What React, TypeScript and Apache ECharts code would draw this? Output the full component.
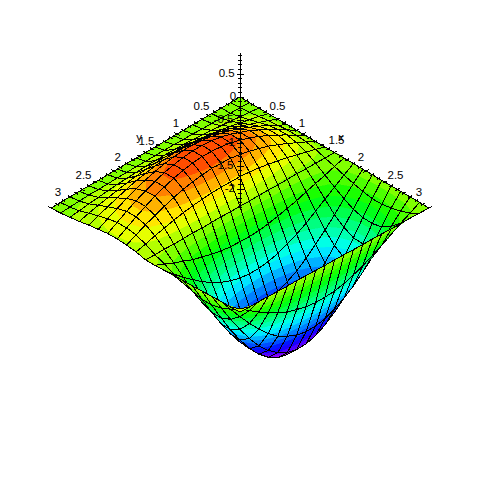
import React, { useEffect, useRef } from "react";
import * as echarts from "echarts";

// Surface heights: one row per x value, one column per y value.
const xGrid = [0, 0.15, 0.3, 0.45, 0.6, 0.75, 0.9, 1.05, 1.2, 1.35, 1.5, 1.65, 1.8, 1.95, 2.1, 2.25, 2.4, 2.55, 2.7, 2.85, 3];
const yGrid = [0, 0.15, 0.3, 0.45, 0.6, 0.75, 0.9, 1.05, 1.2, 1.35, 1.5, 1.65, 1.8, 1.95, 2.1, 2.25, 2.4, 2.55, 2.7, 2.85, 3];
const zGrid = [
  [0, 0, 0, 0, 0, 0, 0, 0, 0, 0, 0, 0, 0, 0, 0, 0, 0, 0, 0, 0, 0],
  [0, 0.01, 0.01, 0.02, 0.03, 0.03, 0.04, 0.04, 0.05, 0.05, 0.05, 0.05, 0.05, 0.05, 0.05, 0.04, 0.04, 0.04, 0.03, 0.02, 0.01],
  [0, 0.03, 0.05, 0.08, 0.1, 0.12, 0.14, 0.16, 0.17, 0.18, 0.18, 0.18, 0.18, 0.17, 0.16, 0.15, 0.13, 0.11, 0.09, 0.06, 0.04],
  [0, 0.06, 0.11, 0.16, 0.21, 0.25, 0.29, 0.32, 0.35, 0.37, 0.37, 0.38, 0.37, 0.35, 0.33, 0.3, 0.26, 0.22, 0.18, 0.13, 0.07],
  [0, 0.09, 0.17, 0.25, 0.33, 0.4, 0.46, 0.51, 0.54, 0.57, 0.58, 0.59, 0.57, 0.55, 0.51, 0.47, 0.41, 0.34, 0.27, 0.19, 0.11],
  [0, 0.11, 0.23, 0.33, 0.43, 0.52, 0.6, 0.66, 0.71, 0.75, 0.77, 0.77, 0.75, 0.72, 0.67, 0.61, 0.54, 0.45, 0.35, 0.25, 0.14],
  [0, 0.13, 0.26, 0.38, 0.49, 0.6, 0.68, 0.76, 0.82, 0.86, 0.88, 0.88, 0.86, 0.82, 0.77, 0.7, 0.61, 0.52, 0.41, 0.29, 0.17],
  [0, 0.13, 0.26, 0.38, 0.49, 0.59, 0.68, 0.75, 0.81, 0.85, 0.87, 0.88, 0.86, 0.82, 0.77, 0.7, 0.62, 0.52, 0.41, 0.29, 0.17],
  [0, 0.11, 0.21, 0.32, 0.41, 0.5, 0.57, 0.63, 0.68, 0.72, 0.73, 0.74, 0.72, 0.69, 0.65, 0.59, 0.52, 0.44, 0.36, 0.26, 0.16],
  [0, 0.07, 0.13, 0.19, 0.25, 0.3, 0.35, 0.39, 0.42, 0.44, 0.45, 0.45, 0.45, 0.43, 0.41, 0.38, 0.34, 0.29, 0.24, 0.18, 0.13],
  [0, 0, 0.01, 0.01, 0.02, 0.02, 0.02, 0.03, 0.03, 0.03, 0.04, 0.04, 0.05, 0.05, 0.05, 0.06, 0.06, 0.06, 0.07, 0.07, 0.08],
  [0, -0.06, -0.13, -0.19, -0.25, -0.32, -0.37, -0.42, -0.46, -0.49, -0.5, -0.49, -0.48, -0.45, -0.4, -0.34, -0.28, -0.19, -0.11, -0.01, 0.08],
  [0, -0.13, -0.27, -0.41, -0.55, -0.69, -0.81, -0.9, -0.99, -1.04, -1.07, -1.07, -1.04, -0.98, -0.89, -0.77, -0.64, -0.47, -0.3, -0.11, 0.09],
  [0, -0.19, -0.4, -0.63, -0.84, -1.03, -1.21, -1.37, -1.48, -1.57, -1.61, -1.61, -1.57, -1.48, -1.36, -1.18, -0.98, -0.73, -0.48, -0.19, 0.1],
  [0, -0.24, -0.51, -0.78, -1.06, -1.31, -1.54, -1.73, -1.89, -1.99, -2.05, -2.06, -2, -1.89, -1.73, -1.51, -1.25, -0.94, -0.61, -0.25, 0.11],
  [0, -0.28, -0.57, -0.89, -1.2, -1.47, -1.74, -1.95, -2.12, -2.25, -2.31, -2.31, -2.26, -2.13, -1.95, -1.71, -1.41, -1.07, -0.7, -0.3, 0.11],
  [0, -0.28, -0.58, -0.9, -1.21, -1.49, -1.76, -1.98, -2.15, -2.28, -2.34, -2.34, -2.29, -2.16, -1.97, -1.73, -1.42, -1.08, -0.7, -0.3, 0.12],
  [0, -0.24, -0.53, -0.81, -1.09, -1.35, -1.58, -1.78, -1.94, -2.05, -2.11, -2.11, -2.06, -1.94, -1.77, -1.55, -1.27, -0.95, -0.61, -0.24, 0.13],
  [0, -0.19, -0.4, -0.61, -0.83, -1.03, -1.21, -1.36, -1.47, -1.56, -1.6, -1.6, -1.56, -1.46, -1.34, -1.16, -0.94, -0.7, -0.43, -0.15, 0.14],
  [0, -0.11, -0.21, -0.33, -0.45, -0.55, -0.65, -0.73, -0.8, -0.84, -0.85, -0.85, -0.82, -0.76, -0.69, -0.59, -0.47, -0.33, -0.18, -0.02, 0.14],
  [0, 0.01, 0.02, 0.02, 0.03, 0.04, 0.05, 0.05, 0.06, 0.07, 0.08, 0.08, 0.09, 0.1, 0.11, 0.11, 0.12, 0.13, 0.14, 0.14, 0.15],
];
const axisMajor = [0.5, 1, 1.5, 2, 2.5, 3];
const zMajor = [0.5, 0, -0.5, -1, -1.5, -2];

const O = { x: 240, y: 97, ux: 63, uy: 37, uz: 46 };
const proj = (x: number, y: number, z: number) => [O.x + O.ux * (x - y), O.y + O.uy * (x + y) - O.uz * z];
const Z0 = 0.87, K = 85, H0 = 14, STEP = 12;
const hue = (z: number) => H0 + (Z0 - z) * K;

function clip(poly: number[][], zv: number, keepAbove: boolean) {
  const out: number[][] = [];
  for (let k = 0; k < poly.length; k++) {
    const a = poly[k], b = poly[(k + 1) % poly.length];
    const ia = keepAbove ? a[2] >= zv : a[2] <= zv;
    const ib = keepAbove ? b[2] >= zv : b[2] <= zv;
    if (ia) out.push(a);
    if (ia !== ib) { const t = (zv - a[2]) / (b[2] - a[2]); out.push([a[0] + t * (b[0] - a[0]), a[1] + t * (b[1] - a[1]), zv]); }
  }
  return out;
}

const NX = xGrid.length - 1, NY = yGrid.length - 1;
const cells: number[][] = [];
for (let s = 0; s <= NX + NY - 2; s++) for (let i = 0; i < NX; i++) { const j = s - i; if (j >= 0 && j < NY) cells.push([i, j]); }

const renderCell = (_p: any, api: any) => {
  const i = api.value(0), j = api.value(1);
  const corners = [[i, j], [i + 1, j], [i + 1, j + 1], [i, j + 1]].map(([a, b]) => {
    const z = zGrid[a][b];
    const p = proj(xGrid[a], yGrid[b], z);
    const c = api.coord([p[0], p[1]]);
    return [c[0], c[1], z];
  });
  const children: any[] = [];
  const hs = corners.map((c) => hue(c[2]));
  const lo = Math.floor(Math.min(...hs) / STEP), hi = Math.floor(Math.max(...hs) / STEP);
  for (let b = lo; b <= hi; b++) {
    const zTop = Z0 - (b * STEP - H0) / K;
    const zBot = Z0 - ((b + 1) * STEP - H0) / K;
    let poly = clip(corners, zTop, false);
    if (poly.length) poly = clip(poly, zBot, true);
    if (poly.length < 3) continue;
    const col = `hsl(${(b + 0.5) * STEP},100%,50%)`;
    children.push({ type: "polygon", shape: { points: poly.map((q) => [q[0], q[1]]) }, style: { fill: col, stroke: col, lineWidth: 0.6 } });
  }
  children.push({ type: "polygon", shape: { points: corners.map((q) => [q[0], q[1]]) }, style: { fill: "none", stroke: "#000", lineWidth: 1 } });
  return { type: "group", children };
};

const line = (api: any, a: number[], b: number[]) => {
  const p = api.coord(a), q = api.coord(b);
  return { type: "line", shape: { x1: p[0], y1: p[1], x2: q[0], y2: q[1] }, style: { stroke: "#000", lineWidth: 1 } };
};
const label = (api: any, t: string, at: number[]) => {
  const p = api.coord(at);
  return { type: "text", x: p[0], y: p[1], style: { text: t, fill: "#000", font: '11.5px "Liberation Sans"', align: "center", verticalAlign: "middle" } };
};
const leftOff = [[-7, -10], [-1, -11], [1, -12], [3.6, -14], [1, -15], [7, -16]];
const rightOff = [[6, -10], [-1, -11], [2, -13], [-5, -14], [-2, -15], [-10, -16]];
const renderAxes = (_p: any, api: any) => {
  const ch: any[] = [];
  const nx = [0.86, -0.505], ny = [0.86, 0.505];
  ch.push(line(api, proj(0, 0, 0), proj(3, 0, 0)), line(api, proj(0, 0, 0), proj(0, 3, 0)), line(api, proj(0, 0, 0.95), proj(0, 0, -2.45)));
  for (let k = 1; k <= 30; k++) {
    const v = k / 10, L = k % 5 === 0 ? 3.5 : 2;
    const a = proj(v, 0, 0), b = proj(0, v, 0);
    ch.push(line(api, [a[0] - nx[0] * L, a[1] - nx[1] * L], [a[0] + nx[0] * L, a[1] + nx[1] * L]));
    ch.push(line(api, [b[0] - ny[0] * L, b[1] - ny[1] * L], [b[0] + ny[0] * L, b[1] + ny[1] * L]));
  }
  for (let k = -24; k <= 9; k++) {
    const c = proj(0, 0, k / 10), L = k % 5 === 0 ? 3.5 : 2;
    ch.push(line(api, [c[0] - L, c[1]], [c[0] + L, c[1]]));
  }
  axisMajor.forEach((v, k) => {
    const a = proj(v, 0, 0), b = proj(0, v, 0);
    ch.push(label(api, String(v), [a[0] + rightOff[k][0], a[1] + rightOff[k][1]]));
    ch.push(label(api, String(v), [b[0] + leftOff[k][0], b[1] + leftOff[k][1]]));
  });
  zMajor.forEach((v) => {
    const c = proj(0, 0, v), t = String(v);
    ch.push(label(api, t, [c[0] - 4 - t.length * 3.1, c[1] - 1]));
  });
  ch.push(label(api, "x", [341, 137]), label(api, "y", [139, 137]));
  return { type: "group", children: ch };
};

export default function App() {
  const ref = useRef<HTMLDivElement>(null);
  useEffect(() => {
    document.body.style.margin = "0";
    const chart = echarts.init(ref.current!, undefined, { renderer: "svg" });
    chart.setOption({
      animation: false,
      grid: { left: 0, right: 0, top: 0, bottom: 0 },
      xAxis: { type: "value", min: 0, max: 481, show: false },
      yAxis: { type: "value", min: 0, max: 481, inverse: true, show: false },
      series: [
        { type: "custom", coordinateSystem: "cartesian2d", data: cells, renderItem: renderCell, clip: false, silent: true },
        { type: "custom", coordinateSystem: "cartesian2d", data: [[0]], renderItem: renderAxes, clip: false, silent: true },
      ],
    });
    const svg = ref.current!.querySelector("svg");
    if (svg) svg.style.shapeRendering = "crispEdges";
    return () => chart.dispose();
  }, []);
  return <div ref={ref} style={{ width: 481, height: 481 }} />;
}
